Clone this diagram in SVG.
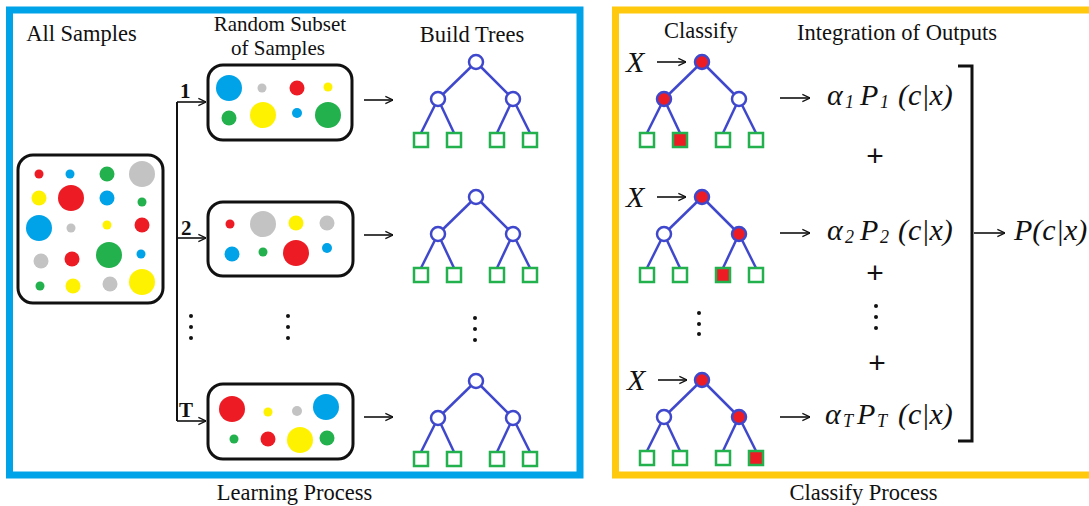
<svg xmlns="http://www.w3.org/2000/svg" width="1089" height="506" viewBox="0 0 1089 506">
<defs>
<style>
.lbl{font-family:"Liberation Serif",serif;font-size:22.5px;fill:#111;text-anchor:middle}
.lbl2{font-family:"Liberation Serif",serif;font-size:21px;fill:#111;text-anchor:middle}
.num{font-family:"Liberation Serif",serif;font-size:21px;font-weight:bold;fill:#111}
.math{font-family:"Liberation Serif",serif;font-style:italic;font-size:30px;fill:#111}
.sub{font-family:"Liberation Serif",serif;font-style:italic;font-size:18px;fill:#111}
.plus{font-family:"Liberation Sans",sans-serif;font-size:30px;fill:#111;text-anchor:middle}
.box{fill:#fff;stroke:#111;stroke-width:3}
.ln{stroke:#111;stroke-width:2;fill:none}
.arr{stroke:#111;stroke-width:1.6;fill:none;marker-end:url(#chev)}
.edge{stroke:#3f48cc;stroke-width:2.5}
.nd{fill:#fff;stroke:#3f48cc;stroke-width:2.5}
.ndr{fill:#ed1c24;stroke:#3f48cc;stroke-width:2.5}
.lf{fill:#fff;stroke:#22b14c;stroke-width:2.5}
.lfr{fill:#ed1c24;stroke:#22b14c;stroke-width:2.5}
.r{fill:#ed1c24}.b{fill:#00a2e8}.g{fill:#22b14c}.y{fill:#fff200}.s{fill:#c3c3c3}
.dot{fill:#111}
</style>
<marker id="chev" viewBox="0 0 10 10" refX="9.5" refY="5" markerWidth="9" markerHeight="10" markerUnits="userSpaceOnUse" orient="auto">
<path d="M1,1 L9.5,5 L1,9" fill="none" stroke="#111" stroke-width="1.4"/>
</marker>
<g id="edges">
<line class="edge" x1="0" y1="0" x2="-38" y2="37"/>
<line class="edge" x1="0" y1="0" x2="37" y2="37"/>
<line class="edge" x1="-38" y1="37" x2="-55" y2="71"/>
<line class="edge" x1="-38" y1="37" x2="-22" y2="71"/>
<line class="edge" x1="37" y1="37" x2="21" y2="71"/>
<line class="edge" x1="37" y1="37" x2="54" y2="71"/>
</g>
<g id="tree">
<use href="#edges"/>
<circle class="nd" cx="0" cy="0" r="7"/>
<circle class="nd" cx="-38" cy="37" r="7"/>
<circle class="nd" cx="37" cy="37" r="7"/>
<rect class="lf" x="-62" y="71" width="14" height="14"/>
<rect class="lf" x="-29" y="71" width="14" height="14"/>
<rect class="lf" x="14" y="71" width="14" height="14"/>
<rect class="lf" x="47" y="71" width="14" height="14"/>
</g>
</defs>
<rect width="1089" height="506" fill="#fff"/>

<!-- frames -->
<g id="learning-frame">
<rect x="9.5" y="10" width="570.5" height="465" fill="none" stroke="#00a2e8" stroke-width="7"/>
<text class="lbl" x="294.5" y="500">Learning Process</text>
</g>
<g id="classify-frame">
<rect x="615.5" y="10" width="490" height="465" fill="none" stroke="#ffc90e" stroke-width="7"/>
<text class="lbl" x="863.5" y="500">Classify Process</text>
</g>

<!-- column headings -->
<g id="headings">
<text class="lbl" x="81.5" y="41">All Samples</text>
<text class="lbl2" x="280" y="31">Random Subset</text>
<text class="lbl2" x="278" y="55">of Samples</text>
<text class="lbl" x="472" y="42">Build Trees</text>
<text class="lbl" x="701" y="38">Classify</text>
<text class="lbl" x="897" y="40">Integration of Outputs</text>
</g>

<!-- connectors -->
<g id="connectors">
<polyline class="ln" points="177,102 177,421"/>
<line class="arr" x1="177" y1="102" x2="206" y2="102"/>
<line class="arr" x1="177" y1="238" x2="206" y2="238"/>
<line class="arr" x1="177" y1="421" x2="206" y2="421"/>
<line class="arr" x1="364" y1="100" x2="393" y2="100"/>
<line class="arr" x1="364" y1="235" x2="393" y2="235"/>
<line class="arr" x1="364" y1="417" x2="393" y2="417"/>
<line class="arr" x1="657" y1="62" x2="686" y2="62"/>
<line class="arr" x1="657" y1="197" x2="686" y2="197"/>
<line class="arr" x1="658" y1="380" x2="687" y2="380"/>
<line class="arr" x1="780" y1="98" x2="810" y2="98"/>
<line class="arr" x1="780" y1="233" x2="810" y2="233"/>
<line class="arr" x1="780" y1="417" x2="810" y2="417"/>
<line class="arr" x1="974" y1="233" x2="1005" y2="233"/>
<polyline fill="none" stroke="#111" stroke-width="3" points="958,66 972,66 972,441 958,441"/>
<text class="num" x="180" y="98">1</text>
<text class="num" x="181" y="235">2</text>
<text class="num" x="179" y="417">T</text>
</g>

<!-- all samples -->
<g id="all-samples">
<rect class="box" x="18" y="155" width="145" height="148" rx="15"/>
<circle class="r" cx="39" cy="174" r="4.5"/><circle class="b" cx="70" cy="174" r="4.5"/><circle class="g" cx="107" cy="174" r="7.5"/><circle class="s" cx="142" cy="174" r="13"/>
<circle class="y" cx="39" cy="198" r="7.5"/><circle class="r" cx="71" cy="198" r="13"/><circle class="b" cx="107" cy="198" r="7.5"/><circle class="g" cx="142" cy="202" r="4.5"/>
<circle class="b" cx="39" cy="228" r="13"/><circle class="s" cx="71" cy="228" r="4.5"/><circle class="y" cx="107" cy="225" r="4.5"/><circle class="r" cx="142" cy="225" r="7.5"/>
<circle class="s" cx="41" cy="261" r="7.5"/><circle class="r" cx="72" cy="259" r="7.5"/><circle class="g" cx="109" cy="255" r="13"/><circle class="b" cx="141" cy="254" r="4.5"/>
<circle class="g" cx="40" cy="286" r="4.5"/><circle class="y" cx="73" cy="286" r="7.5"/><circle class="s" cx="110" cy="284" r="7.5"/><circle class="y" cx="142" cy="282" r="13"/>
</g>

<!-- subsets -->
<g id="subset-1">
<rect class="box" x="208" y="65" width="144" height="75" rx="15"/>
<circle class="b" cx="229" cy="88" r="13"/><circle class="s" cx="262" cy="88" r="4.5"/><circle class="r" cx="297" cy="88" r="7.5"/><circle class="y" cx="328" cy="87" r="4.5"/>
<circle class="g" cx="229" cy="118" r="7.5"/><circle class="y" cx="263" cy="115" r="13"/><circle class="b" cx="297" cy="113" r="5"/><circle class="g" cx="328" cy="115" r="13"/>
</g>
<g id="subset-2">
<rect class="box" x="208" y="202" width="145" height="74" rx="15"/>
<circle class="r" cx="230" cy="224" r="4.5"/><circle class="s" cx="263" cy="224" r="13"/><circle class="y" cx="296" cy="223" r="7.5"/><circle class="s" cx="327" cy="223" r="7.5"/>
<circle class="b" cx="232" cy="254" r="7.5"/><circle class="g" cx="263" cy="252" r="4.5"/><circle class="r" cx="296" cy="253" r="13"/><circle class="b" cx="327" cy="248" r="5"/>
</g>
<g id="subset-T">
<rect class="box" x="208" y="384" width="145" height="75" rx="15"/>
<circle class="r" cx="232" cy="409" r="13"/><circle class="y" cx="268" cy="412" r="4.5"/><circle class="s" cx="297" cy="411" r="5"/><circle class="b" cx="326" cy="407" r="13"/>
<circle class="g" cx="234" cy="439" r="4.5"/><circle class="r" cx="268" cy="439" r="7.5"/><circle class="y" cx="300" cy="440" r="13"/><circle class="g" cx="327" cy="438" r="7.5"/>
</g>

<!-- build trees -->
<g id="build-tree-1"><use href="#tree" x="476" y="62"/></g>
<g id="build-tree-2"><use href="#tree" x="476" y="197"/></g>
<g id="build-tree-T"><use href="#tree" x="476" y="381"/></g>

<!-- classify trees -->
<g id="classify-tree-1" transform="translate(702,62)">
<use href="#edges"/>
<circle class="ndr" cx="0" cy="0" r="7"/>
<circle class="ndr" cx="-38" cy="37" r="7"/>
<circle class="nd" cx="37" cy="37" r="7"/>
<rect class="lf" x="-62" y="71" width="14" height="14"/>
<rect class="lfr" x="-29" y="71" width="14" height="14"/>
<rect class="lf" x="14" y="71" width="14" height="14"/>
<rect class="lf" x="47" y="71" width="14" height="14"/>
</g>
<g id="classify-tree-2" transform="translate(702,197)">
<use href="#edges"/>
<circle class="ndr" cx="0" cy="0" r="7"/>
<circle class="nd" cx="-38" cy="37" r="7"/>
<circle class="ndr" cx="37" cy="37" r="7"/>
<rect class="lf" x="-62" y="71" width="14" height="14"/>
<rect class="lf" x="-29" y="71" width="14" height="14"/>
<rect class="lfr" x="14" y="71" width="14" height="14"/>
<rect class="lf" x="47" y="71" width="14" height="14"/>
</g>
<g id="classify-tree-T" transform="translate(702,380)">
<use href="#edges"/>
<circle class="ndr" cx="0" cy="0" r="7"/>
<circle class="nd" cx="-38" cy="37" r="7"/>
<circle class="ndr" cx="37" cy="37" r="7"/>
<rect class="lf" x="-62" y="71" width="14" height="14"/>
<rect class="lf" x="-29" y="71" width="14" height="14"/>
<rect class="lf" x="14" y="71" width="14" height="14"/>
<rect class="lfr" x="47" y="71" width="14" height="14"/>
</g>

<!-- inputs X -->
<g id="inputs">
<text class="math" x="626" y="72">X</text>
<text class="math" x="626" y="207">X</text>
<text class="math" x="627" y="390">X</text>
</g>

<!-- formulas -->
<g id="formula-1">
<text class="math" x="827" y="105">α</text><text class="sub" x="845" y="108">1</text>
<text class="math" x="860" y="105">P</text><text class="sub" x="880" y="108">1</text>
<text class="math" x="898" y="105">(c|x)</text>
</g>
<g id="formula-2">
<text class="math" x="827" y="240">α</text><text class="sub" x="845" y="243">2</text>
<text class="math" x="860" y="240">P</text><text class="sub" x="880" y="243">2</text>
<text class="math" x="898" y="240">(c|x)</text>
</g>
<g id="formula-T">
<text class="math" x="825" y="424">α</text><text class="sub" x="843" y="427">T</text>
<text class="math" x="857" y="424">P</text><text class="sub" x="877" y="427">T</text>
<text class="math" x="898" y="424">(c|x)</text>
</g>
<g id="result">
<text class="math" x="1014" y="240">P(c|x)</text>
</g>
<g id="plus-signs">
<text class="plus" x="875" y="166">+</text>
<text class="plus" x="875" y="283">+</text>
<text class="plus" x="877" y="373">+</text>
</g>

<!-- ellipses -->
<g id="ellipses">
<circle class="dot" cx="191" cy="316" r="2"/><circle class="dot" cx="191" cy="327" r="2"/><circle class="dot" cx="191" cy="338" r="2"/>
<circle class="dot" cx="288" cy="316" r="2"/><circle class="dot" cx="288" cy="327" r="2"/><circle class="dot" cx="288" cy="338" r="2"/>
<circle class="dot" cx="475" cy="318" r="2"/><circle class="dot" cx="475" cy="329" r="2"/><circle class="dot" cx="475" cy="340" r="2"/>
<circle class="dot" cx="699" cy="313" r="2"/><circle class="dot" cx="699" cy="324" r="2"/><circle class="dot" cx="699" cy="334" r="2"/>
<circle class="dot" cx="876" cy="306" r="2"/><circle class="dot" cx="876" cy="317" r="2"/><circle class="dot" cx="876" cy="328" r="2"/>
</g>
</svg>
